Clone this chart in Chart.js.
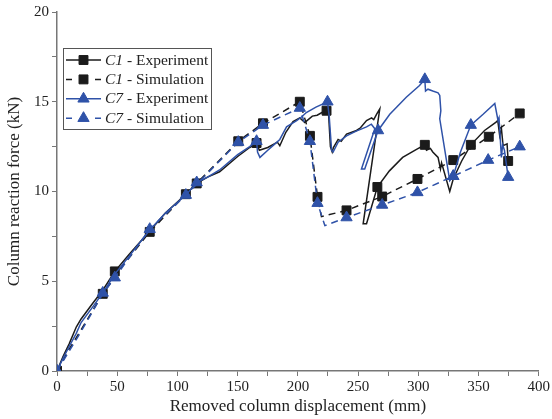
<!DOCTYPE html>
<html>
<head>
<meta charset="utf-8">
<script src="https://cdn.jsdelivr.net/npm/chart.js@4.4.1/dist/chart.umd.min.js"></script>
<style>
  body { margin: 0; background: #fff; }
</style>
</head>
<body>
<canvas id="grafico" width="552" height="419"></canvas>
<script>
// C1 - Experiment
var c1ExpX = [0, 5, 10, 16, 20, 30, 38, 48, 60, 77, 90, 107, 116, 125, 135, 150, 160, 165.7, 168, 175, 183, 185, 190, 196, 201.6, 205.8, 212, 216, 220, 223.8, 225.5, 227, 228.5, 229.5, 233.4, 236, 240.4, 248.7, 252, 257, 261.2, 263, 265.3, 268, 254.2, 257, 266, 276, 287, 298.5, 305.4, 306.8, 310, 312, 316.4, 318.4, 319.3, 326.1, 329, 336, 343.6, 355, 364.3, 366, 367.6, 369, 370.4, 373.7, 374.6];
var c1ExpY = [0, 0.8, 1.5, 2.45, 2.9, 3.8, 4.5, 5.55, 6.5, 7.8, 8.8, 9.85, 10.45, 10.8, 11.1, 11.95, 12.45, 12.7, 12.3, 12.45, 12.75, 12.55, 13.3, 13.9, 14.1, 13.85, 14.2, 14.25, 14.4, 14.5, 14.3, 12.5, 12.2, 12.45, 12.9, 12.8, 13.2, 13.4, 13.55, 13.95, 14.1, 14.0, 14.3, 14.6, 8.2, 8.2, 10.25, 11.15, 11.9, 12.35, 12.6, 12.3, 12.4, 12.2, 11.9, 11.25, 11.6, 10.0, 10.7, 11.7, 12.6, 13.4, 13.85, 13.95, 13.1, 13.5, 12.55, 12.65, 11.7];
var c1ExpMarks = [0, 48, 116, 165.7, 223.8, 266, 305.4, 343.6, 374.6];

// C1 - Simulation
var c1SimX = [0, 10, 20, 38, 55, 77, 107, 150.5, 171, 201.6, 210, 216.3, 219.6, 240.4, 270, 299.3, 329, 358.5, 384.2];
var c1SimY = [0, 1.2, 2.3, 4.3, 5.9, 7.75, 9.85, 12.8, 13.8, 15.0, 13.1, 9.7, 8.6, 8.95, 9.72, 10.7, 11.75, 13.05, 14.35];
var c1SimMarks = [0, 38, 77, 107, 150.5, 171, 201.6, 210, 216.3, 240.4, 270, 299.3, 329, 358.5, 384.2];

// C7 - Experiment
var c7ExpX = [0, 5, 10, 16, 20, 30, 38, 48, 60, 77, 90, 107, 116, 125, 135, 150, 160, 165.7, 166.5, 168.5, 175, 180, 185, 190.6, 199, 203, 207, 215, 224.6, 226, 228, 229.3, 233.4, 240.4, 248, 257, 261, 263.9, 252.8, 255.5, 266.6, 276.3, 290, 301, 305.4, 306, 308, 312, 316.4, 317.8, 318.7, 317.8, 326.1, 329, 335, 343.6, 353.8, 363.5, 366.2, 367, 369, 370, 371.5, 374.6];
var c7ExpY = [0, 0.7, 1.35, 2.1, 2.7, 3.6, 4.35, 5.4, 6.4, 7.85, 8.8, 9.8, 10.5, 10.8, 11.2, 12.05, 12.5, 12.8, 12.2, 11.9, 12.3, 12.6, 12.9, 13.6, 13.95, 14.15, 14.4, 14.7, 15.0, 14.2, 12.3, 12.2, 12.75, 13.1, 13.35, 13.6, 13.75, 13.5, 11.25, 11.25, 13.4, 14.3, 15.25, 15.9, 16.25, 15.6, 15.7, 15.6, 15.5, 15.35, 14.5, 14.05, 10.6, 10.85, 12.2, 13.7, 14.3, 14.9, 13.95, 14.1, 11.9, 12.6, 12.3, 10.8];
var c7ExpMarks = [0, 38, 116, 165.7, 224.6, 266.6, 305.4, 329, 343.6, 374.6];

// C7 - Simulation
var c7SimX = [0, 10, 20, 38, 48, 77, 107, 150.5, 171, 201.6, 210, 216.3, 222.4, 240.4, 270, 299.3, 329, 358, 384.2];
var c7SimY = [0, 1.1, 2.2, 4.3, 5.2, 7.9, 9.8, 12.75, 13.7, 14.65, 12.8, 9.35, 8.1, 8.55, 9.25, 9.95, 10.85, 11.75, 12.5];
var c7SimMarks = [0, 48, 77, 107, 150.5, 171, 201.6, 210, 216.3, 240.4, 270, 299.3, 329, 358, 384.2];

var negro = '#1b1b1b';
var azul = '#2f52a8';
var fuente = '"Liberation Serif", "Times New Roman", serif';

function puntos(xs, ys) {
  return xs.map(function (x, i) { return { x: x, y: ys[i] }; });
}

function serie(label, xs, ys, marcas, color, forma, radio, discontinua, orden) {
  return {
    label: label,
    data: puntos(xs, ys),
    borderColor: color,
    backgroundColor: color,
    borderWidth: 1.5,
    borderDash: discontinua ? [7, 5] : [],
    pointStyle: forma,
    pointBackgroundColor: color,
    pointBorderColor: color,
    pointBorderWidth: 1,
    pointRadius: function (ctx) {
      return marcas.indexOf(xs[ctx.dataIndex]) >= 0 ? radio : 0;
    },
    pointHoverRadius: 0,
    tension: 0,
    order: orden
  };
}

var datasets = [
  serie('C1 - Experiment', c1ExpX, c1ExpY, c1ExpMarks, negro, 'rect', 6.3, false, 4),
  serie('C1 - Simulation', c1SimX, c1SimY, c1SimMarks, negro, 'rect', 6.3, true, 3),
  serie('C7 - Experiment', c7ExpX, c7ExpY, c7ExpMarks, azul, 'triangle', 6.5, false, 2),
  serie('C7 - Simulation', c7SimX, c7SimY, c7SimMarks, azul, 'triangle', 6.5, true, 1)
];

// leyenda dibujada a mano: linea + marcador, y "C1"/"C7" en cursiva
var leyendaPlugin = {
  id: 'leyendaOrigin',
  afterDraw: function (chart) {
    var ctx = chart.ctx;
    var x0 = 63.5, y0 = 48.5, ancho = 148, alto = 81, paso = 19.4;
    ctx.save();
    ctx.fillStyle = '#fff';
    ctx.fillRect(x0, y0, ancho, alto);
    ctx.strokeStyle = '#555';
    ctx.lineWidth = 1;
    ctx.strokeRect(x0, y0, ancho, alto);
    chart.data.datasets.forEach(function (d, i) {
      var y = y0 + 11.5 + i * paso;
      ctx.strokeStyle = d.borderColor;
      ctx.fillStyle = d.borderColor;
      ctx.lineWidth = 1.5;
      ctx.setLineDash([]);
      ctx.beginPath();
      if (d.borderDash.length) {
        ctx.moveTo(66, y); ctx.lineTo(72, y);
        ctx.moveTo(95, y); ctx.lineTo(101, y);
      } else {
        ctx.moveTo(66, y); ctx.lineTo(101, y);
      }
      ctx.stroke();
      ctx.lineWidth = 1;
      Chart.helpers.drawPoint(ctx, {
        pointStyle: d.pointStyle, radius: d.pointStyle === 'rect' ? 6.3 : 6.5, borderWidth: 1
      }, 83.5, y);
      var partes = d.label.split(' ');
      ctx.fillStyle = '#222';
      ctx.textBaseline = 'middle';
      ctx.font = 'italic 15.5px ' + fuente;
      ctx.fillText(partes[0], 105, y + 0.5);
      var w = ctx.measureText(partes[0]).width;
      ctx.font = '15.5px ' + fuente;
      ctx.fillText(' ' + partes.slice(1).join(' '), 105 + w, y + 0.5);
    });
    ctx.restore();
  }
};

new Chart(document.getElementById('grafico'), {
  type: 'line',
  data: { datasets: datasets },
  plugins: [leyendaPlugin],
  options: {
    responsive: false,
    animation: false,
    devicePixelRatio: 1,
    events: [],
    layout: { padding: { top: 4, right: 13, left: 4, bottom: 2 } },
    plugins: { legend: { display: false }, tooltip: { enabled: false } },
    scales: {
      x: {
        type: 'linear', min: 0, max: 400,
        ticks: {
          stepSize: 25, autoSkip: false, maxRotation: 0, color: '#222', padding: 2,
          font: { family: fuente, size: 15 },
          callback: function (v) { return v % 50 === 0 ? v : ''; }
        },
        grid: { drawOnChartArea: false, tickLength: 5, color: '#777', tickColor: '#777' },
        border: { color: '#777', width: 1.5 },
        title: { display: true, text: 'Removed column displacement (mm)', color: '#222', font: { family: fuente, size: 17 }, padding: { top: 0, bottom: 0 } },
        afterFit: function (s) { s.height = 46; }
      },
      y: {
        type: 'linear', min: 0, max: 20,
        ticks: {
          stepSize: 2.5, autoSkip: false, color: '#222', padding: 3,
          font: { family: fuente, size: 15 },
          callback: function (v) { return v % 5 === 0 ? v : ''; }
        },
        grid: { drawOnChartArea: false, tickLength: 5, color: '#777', tickColor: '#777' },
        border: { color: '#777', width: 1.5 },
        title: { display: true, text: 'Column reaction force (kN)', color: '#222', font: { family: fuente, size: 17 }, padding: { top: 0, bottom: 4 } },
        afterFit: function (s) { s.width = 53; }
      }
    }
  }
});
</script>
</body>
</html>
